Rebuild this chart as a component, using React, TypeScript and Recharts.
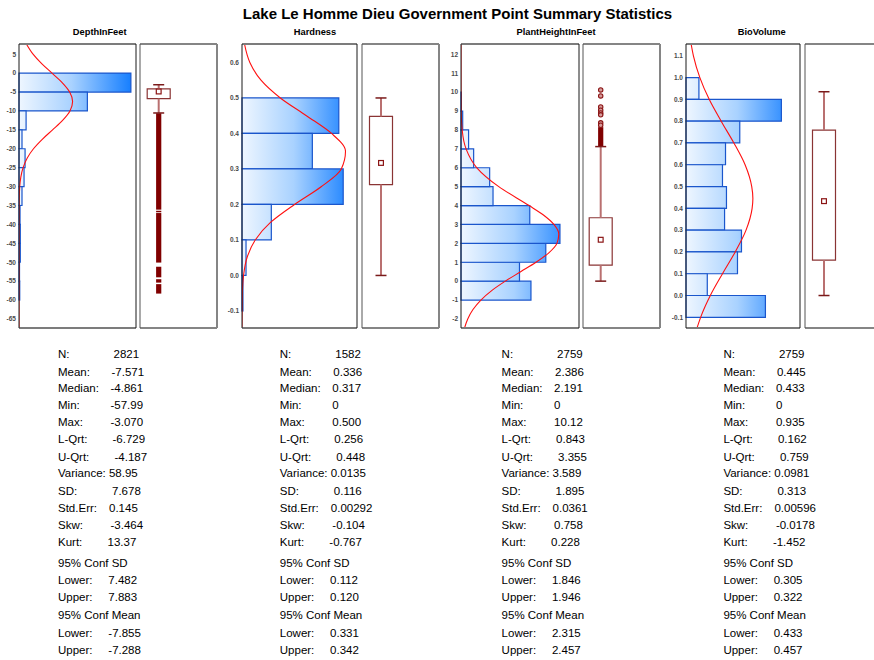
import React from 'react';
import { ComposedChart, XAxis, YAxis, Line, ReferenceArea, ReferenceLine, Scatter } from 'recharts';

const FONT = '"Liberation Sans", Arial, Helvetica, sans-serif';

// ---------- DepthInFeet ----------
const depthBinStarts = [-5, -10, -15, -20, -25, -30, -35, -40, -45, -50, -55, -60];
const depthCounts = [1530, 935, 97, 41, 83, 69, 41, 14, 18, 18, 7, 10];
const depthTicks = [5, 0, -5, -10, -15, -20, -25, -30, -35, -40, -45, -50, -55, -60, -65];
const depthCurveV = [7.7, 5, 2.5, 0, -2.5, -5, -7.5, -10, -12.5, -15, -17.5, -20, -22.5, -25, -27.5, -30, -35, -40, -67.4];
const depthCurveC = [101, 192, 310, 451, 590, 693, 733, 697, 596, 459, 318, 198, 111, 56, 25, 10, 1, 0, 0];
const depthStats = ['2821', '-7.571', '-4.861', '-57.99', '-3.070', '-6.729', '-4.187', '58.95', '7.678', '0.145', '-3.464', '13.37'];
const depthConfSD = ['7.482', '7.883'];
const depthConfMean = ['-7.855', '-7.288'];
const depthBox = { low: -10.54, lq: -6.729, median: -4.861, uq: -4.187, high: -3.07 };
const depthOutlierRuns = [[-10.6, -36.1], [-36.4, -36.8], [-37.0, -50.1], [-51.2, -54.0], [-54.5, -55.4], [-55.8, -58.3]];
const depthOutliers: number[] = [];

// ---------- Hardness ----------
const hardBinStarts = [0.4, 0.3, 0.2, 0.1, 0.0, -0.1];
const hardCounts = [505, 367, 528, 153, 21, 5];
const hardTicks = [0.6, 0.5, 0.4, 0.3, 0.2, 0.1, 0.0, -0.1];
const hardCurveV = [0.652, 0.6, 0.55, 0.5, 0.45, 0.4, 0.35, 0.3, 0.25, 0.2, 0.15, 0.1, 0.05, 0.0, -0.05, -0.148];
const hardCurveC = [13, 41, 99, 200, 336, 467, 540, 518, 413, 274, 150, 69, 26, 8, 2, 0];
const hardStats = ['1582', '0.336', '0.317', '0', '0.500', '0.256', '0.448', '0.0135', '0.116', '0.00292', '-0.104', '-0.767'];
const hardConfSD = ['0.112', '0.120'];
const hardConfMean = ['0.331', '0.342'];
const hardBox = { low: 0, lq: 0.256, median: 0.317, uq: 0.448, high: 0.5 };
const hardOutlierRuns: number[][] = [];
const hardOutliers: number[] = [];

// ---------- PlantHeightInFeet ----------
const plantBinStarts = [-1, 0, 1, 2, 3, 4, 5, 6, 7, 8, 9];
const plantCounts = [415, 347, 503, 587, 408, 190, 170, 75, 45, 10, 2];
const plantTicks = [12, 11, 10, 9, 8, 7, 6, 5, 4, 3, 2, 1, 0, -1, -2];
const plantCurveV = [12.55, 11, 10, 9, 8, 7, 6, 5, 4, 3.5, 3, 2.5, 2, 1.5, 1, 0.5, 0, -0.5, -1, -1.5, -2, -2.48];
const plantCurveC = [0, 0, 0.2, 1.3, 7, 30, 94, 224, 404, 489, 551, 580, 569, 521, 445, 354, 263, 182, 118, 71, 40, 21];
const plantStats = ['2759', '2.386', '2.191', '0', '10.12', '0.843', '3.355', '3.589', '1.895', '0.0361', '0.758', '0.228'];
const plantConfSD = ['1.846', '1.946'];
const plantConfMean = ['2.315', '2.457'];
const plantBox = { low: 0, lq: 0.843, median: 2.191, uq: 3.355, high: 7.12 };
const plantOutlierRuns = [[7.15, 8.15]];
const plantOutliers = [10.12, 9.8, 9.22, 9.05, 8.9, 8.8, 8.38, 8.25];

// ---------- BioVolume ----------
const bioBinStarts = [0.9, 0.8, 0.7, 0.6, 0.5, 0.4, 0.3, 0.2, 0.1, 0.0, -0.1];
const bioCounts = [68, 502, 283, 208, 192, 213, 203, 292, 271, 112, 418];
const bioTicks = [1.1, 1.0, 0.9, 0.8, 0.7, 0.6, 0.5, 0.4, 0.3, 0.2, 0.1, 0.0, -0.1];
const bioCurveV = [1.154, 1.1, 1.0, 0.9, 0.8, 0.7, 0.6, 0.5, 0.445, 0.4, 0.3, 0.2, 0.1, 0.0, -0.1, -0.149];
const bioCurveC = [27, 39, 73, 122, 185, 252, 311, 346, 352, 348, 316, 259, 192, 128, 77, 58];
const bioStats = ['2759', '0.445', '0.433', '0', '0.935', '0.162', '0.759', '0.0981', '0.313', '0.00596', '-0.0178', '-1.452'];
const bioConfSD = ['0.305', '0.322'];
const bioConfMean = ['0.433', '0.457'];
const bioBox = { low: 0, lq: 0.162, median: 0.433, uq: 0.759, high: 0.935 };
const bioOutlierRuns: number[][] = [];
const bioOutliers: number[] = [];

const variableNames = ['DepthInFeet', 'Hardness', 'PlantHeightInFeet', 'BioVolume'];
const statLabels = ['N:', 'Mean:', 'Median:', 'Min:', 'Max:', 'L-Qrt:', 'U-Qrt:', 'Variance:', 'SD:', 'Std.Err:', 'Skw:', 'Kurt:'];
const TITLE = 'Lake Le Homme Dieu Government Point Summary Statistics';

// ---------- layout (not data) ----------
const PLOT_TOP = 44;
const PLOT_H = 284;
const STAT_OFFSETS = [55.5, 53.5, 52.5, 52.5, 52.5, 54.5, 56.5, -1, 54, 51, 52.5, 49.5];
const LINE_Y = [354.3, 371.7, 387.7, 405, 422.3, 439, 456.7, 473.3, 490.7, 507.7, 525, 541.7];
const CONF_Y = [562.7, 580, 597.3, 615, 632.7, 650];
const COL_X = [58, 279.8, 501.6, 723.4];
const TITLE_X = [99.7, 315, 556, 761.7];

type HistProps = {
  id: string; plotLeft: number; plotWidth: number; axisWidth: number;
  domain: [number, number]; ticks: number[]; fmt: (v: number) => string; xMax: number;
  binStarts: number[]; binWidth: number; counts: number[]; curveV: number[]; curveC: number[];
};

function Histogram(p: HistProps) {
  const data = p.curveV.map((v, i) => ({ v, c: p.curveC[i] }));
  const w = p.axisWidth + p.plotWidth + 2;
  return (
    <div style={{ position: 'absolute', left: p.plotLeft - p.axisWidth, top: PLOT_TOP - 2 }}>
      <ComposedChart width={w} height={PLOT_H + 4} layout="vertical" data={data}
        margin={{ top: 2, right: 2, bottom: 2, left: 0 }}>
        <defs>
          <linearGradient id={p.id} gradientUnits="userSpaceOnUse" x1={p.axisWidth} y1={0} x2={p.axisWidth + p.plotWidth} y2={0}>
            <stop offset="0%" stopColor="#eef6ff" />
            <stop offset="45%" stopColor="#a9d2ff" />
            <stop offset="100%" stopColor="#0a78ff" />
          </linearGradient>
        </defs>
        <XAxis type="number" hide domain={[0, p.xMax]} allowDataOverflow />
        <YAxis type="number" dataKey="v" domain={p.domain} allowDataOverflow ticks={p.ticks} interval={0} reversed
          width={p.axisWidth} tickLine={false} axisLine={false} tickSize={3} tickMargin={0}
          tickFormatter={p.fmt} tick={{ fontSize: 6.5, fill: '#4a4a4a', fontFamily: FONT, fontWeight: 'bold' }} />
        {p.binStarts.map((b, i) => (
          <ReferenceArea key={i} x1={0} x2={p.counts[i]} y1={b} y2={b + p.binWidth}
            fill={`url(#${p.id})`} fillOpacity={1} stroke="#1a56cc" strokeWidth={1.2} />
        ))}
        <Line dataKey="c" type="monotone" stroke="#ff1010" strokeWidth={1.1} dot={false} activeDot={false} isAnimationActive={false} />
        <ReferenceLine y={p.domain[1]} stroke="#7c7c7c" strokeWidth={2} />
        <ReferenceLine y={p.domain[0]} stroke="#7c7c7c" strokeWidth={2} />
        <ReferenceLine x={0} stroke="#1a1a1a" strokeWidth={1} />
        <ReferenceLine x={p.xMax} stroke="#1a1a1a" strokeWidth={1} />
      </ComposedChart>
    </div>
  );
}

type BoxProps = {
  panelLeft: number; cx: number; domain: [number, number];
  box: { low: number; lq: number; median: number; uq: number; high: number };
  runs: number[][]; outliers: number[];
};

const PANEL_W = 77;

function BoxPanel(p: BoxProps) {
  const { cx, box } = p;
  const medianData = [{ x: cx, y: box.median }];
  const outData = p.outliers.map((y) => ({ x: cx, y }));
  return (
    <div style={{ position: 'absolute', left: p.panelLeft - 2, top: PLOT_TOP - 2 }}>
      <ComposedChart width={PANEL_W + 4} height={PLOT_H + 4} margin={{ top: 2, right: 2, bottom: 2, left: 2 }}>
        <XAxis type="number" dataKey="x" hide domain={[0, PANEL_W]} allowDataOverflow />
        <YAxis type="number" dataKey="y" hide domain={p.domain} allowDataOverflow />
        <ReferenceLine segment={[{ x: cx, y: box.uq }, { x: cx, y: box.high }]} stroke="#b97070" strokeWidth={2} />
        <ReferenceLine segment={[{ x: cx, y: box.low }, { x: cx, y: box.lq }]} stroke="#b97070" strokeWidth={2} />
        <ReferenceLine segment={[{ x: cx - 5.5, y: box.high }, { x: cx + 5.5, y: box.high }]} stroke="#7a1a1a" strokeWidth={1.5} />
        <ReferenceLine segment={[{ x: cx - 5.5, y: box.low }, { x: cx + 5.5, y: box.low }]} stroke="#7a1a1a" strokeWidth={1.5} />
        <ReferenceArea x1={cx - 11.5} x2={cx + 11.5} y1={box.lq} y2={box.uq} fill="#ffffff" fillOpacity={1} stroke="#8a3434" strokeWidth={1.2} />
        {p.runs.map((r, i) => (
          <ReferenceArea key={i} x1={cx - 2.6} x2={cx + 2.6} y1={r[0]} y2={r[1]} fill="#800000" fillOpacity={1} stroke="none" />
        ))}
        <Scatter data={outData} isAnimationActive={false}
          shape={(s: any) => <circle cx={s.cx} cy={s.cy} r={2.2} fill="#d49a9a" stroke="#8b1515" strokeWidth={1.1} />} />
        <Scatter data={medianData} isAnimationActive={false}
          shape={(s: any) => <rect x={s.cx - 2.4} y={s.cy - 2.4} width={4.8} height={4.8} fill="#fff" stroke="#8b1515" strokeWidth={1.2} />} />
        <ReferenceLine y={p.domain[1]} stroke="#858585" strokeWidth={2} />
        <ReferenceLine y={p.domain[0]} stroke="#858585" strokeWidth={2} />
        <ReferenceLine x={0} stroke="#555" strokeWidth={1} />
        <ReferenceLine x={PANEL_W} stroke="#858585" strokeWidth={2} />
      </ComposedChart>
    </div>
  );
}

function StatsColumn({ x, values, confSD, confMean }: { x: number; values: string[]; confSD: string[]; confMean: string[] }) {
  const fs = 11.5;
  const base = 4.1;
  return (
    <g fontFamily={FONT} fontSize={fs} fill="#000">
      {statLabels.map((lab, i) =>
        STAT_OFFSETS[i] < 0 ? (
          <text key={i} x={x} y={LINE_Y[i] + base}>{`${lab} ${values[i]}`}</text>
        ) : (
          <g key={i}>
            <text x={x} y={LINE_Y[i] + base}>{lab}</text>
            <text x={x + STAT_OFFSETS[i]} y={LINE_Y[i] + base}>{values[i]}</text>
          </g>
        )
      )}
      <text x={x} y={CONF_Y[0] + base}>95% Conf SD</text>
      <text x={x} y={CONF_Y[1] + base}>Lower:</text>
      <text x={x + 50.3} y={CONF_Y[1] + base}>{confSD[0]}</text>
      <text x={x} y={CONF_Y[2] + base}>Upper:</text>
      <text x={x + 50.3} y={CONF_Y[2] + base}>{confSD[1]}</text>
      <text x={x} y={CONF_Y[3] + base}>95% Conf Mean</text>
      <text x={x} y={CONF_Y[4] + base}>Lower:</text>
      <text x={x + 50.3} y={CONF_Y[4] + base}>{confMean[0]}</text>
      <text x={x} y={CONF_Y[5] + base}>Upper:</text>
      <text x={x + 50.3} y={CONF_Y[5] + base}>{confMean[1]}</text>
    </g>
  );
}

const f0 = (v: number) => `${Math.round(v)}`;
const f1 = (v: number) => v.toFixed(1);

export default function App() {
  return (
    <div style={{ position: 'absolute', left: 0, top: 0, width: 874, height: 660, background: '#fff', overflow: 'hidden' }}>
      <svg width={874} height={660} style={{ position: 'absolute', left: 0, top: 0 }}>
        <text x={457.5} y={19} textAnchor="middle" fontFamily={FONT} fontWeight="bold" fontSize={15}>{TITLE}</text>
        {variableNames.map((n, i) => (
          <text key={n} x={TITLE_X[i]} y={34.5} textAnchor="middle" fontFamily={FONT} fontWeight="bold" fontSize={9.3}>{n}</text>
        ))}
        <StatsColumn x={COL_X[0]} values={depthStats} confSD={depthConfSD} confMean={depthConfMean} />
        <StatsColumn x={COL_X[1]} values={hardStats} confSD={hardConfSD} confMean={hardConfMean} />
        <StatsColumn x={COL_X[2]} values={plantStats} confSD={plantConfSD} confMean={plantConfMean} />
        <StatsColumn x={COL_X[3]} values={bioStats} confSD={bioConfSD} confMean={bioConfMean} />
      </svg>

      <Histogram id="gDepth" plotLeft={19} plotWidth={117} axisWidth={19} domain={[-67.4, 7.7]} ticks={depthTicks} fmt={f0}
        xMax={1600} binStarts={depthBinStarts} binWidth={5} counts={depthCounts} curveV={depthCurveV} curveC={depthCurveC} />
      <BoxPanel panelLeft={140} cx={18.7} domain={[-67.4, 7.7]} box={depthBox} runs={depthOutlierRuns} outliers={depthOutliers} />

      <Histogram id="gHard" plotLeft={242} plotWidth={115} axisWidth={22} domain={[-0.148, 0.652]} ticks={hardTicks} fmt={f1}
        xMax={600} binStarts={hardBinStarts} binWidth={0.1} counts={hardCounts} curveV={hardCurveV} curveC={hardCurveC} />
      <BoxPanel panelLeft={362} cx={19} domain={[-0.148, 0.652]} box={hardBox} runs={hardOutlierRuns} outliers={hardOutliers} />

      <Histogram id="gPlant" plotLeft={461} plotWidth={118} axisWidth={21} domain={[-2.48, 12.55]} ticks={plantTicks} fmt={f0}
        xMax={700} binStarts={plantBinStarts} binWidth={1} counts={plantCounts} curveV={plantCurveV} curveC={plantCurveC} />
      <BoxPanel panelLeft={583} cx={17.7} domain={[-2.48, 12.55]} box={plantBox} runs={plantOutlierRuns} outliers={plantOutliers} />

      <Histogram id="gBio" plotLeft={686} plotWidth={114} axisWidth={21} domain={[-0.149, 1.154]} ticks={bioTicks} fmt={f1}
        xMax={600} binStarts={bioBinStarts} binWidth={0.1} counts={bioCounts} curveV={bioCurveV} curveC={bioCurveC} />
      <BoxPanel panelLeft={805} cx={19} domain={[-0.149, 1.154]} box={bioBox} runs={bioOutlierRuns} outliers={bioOutliers} />
    </div>
  );
}
